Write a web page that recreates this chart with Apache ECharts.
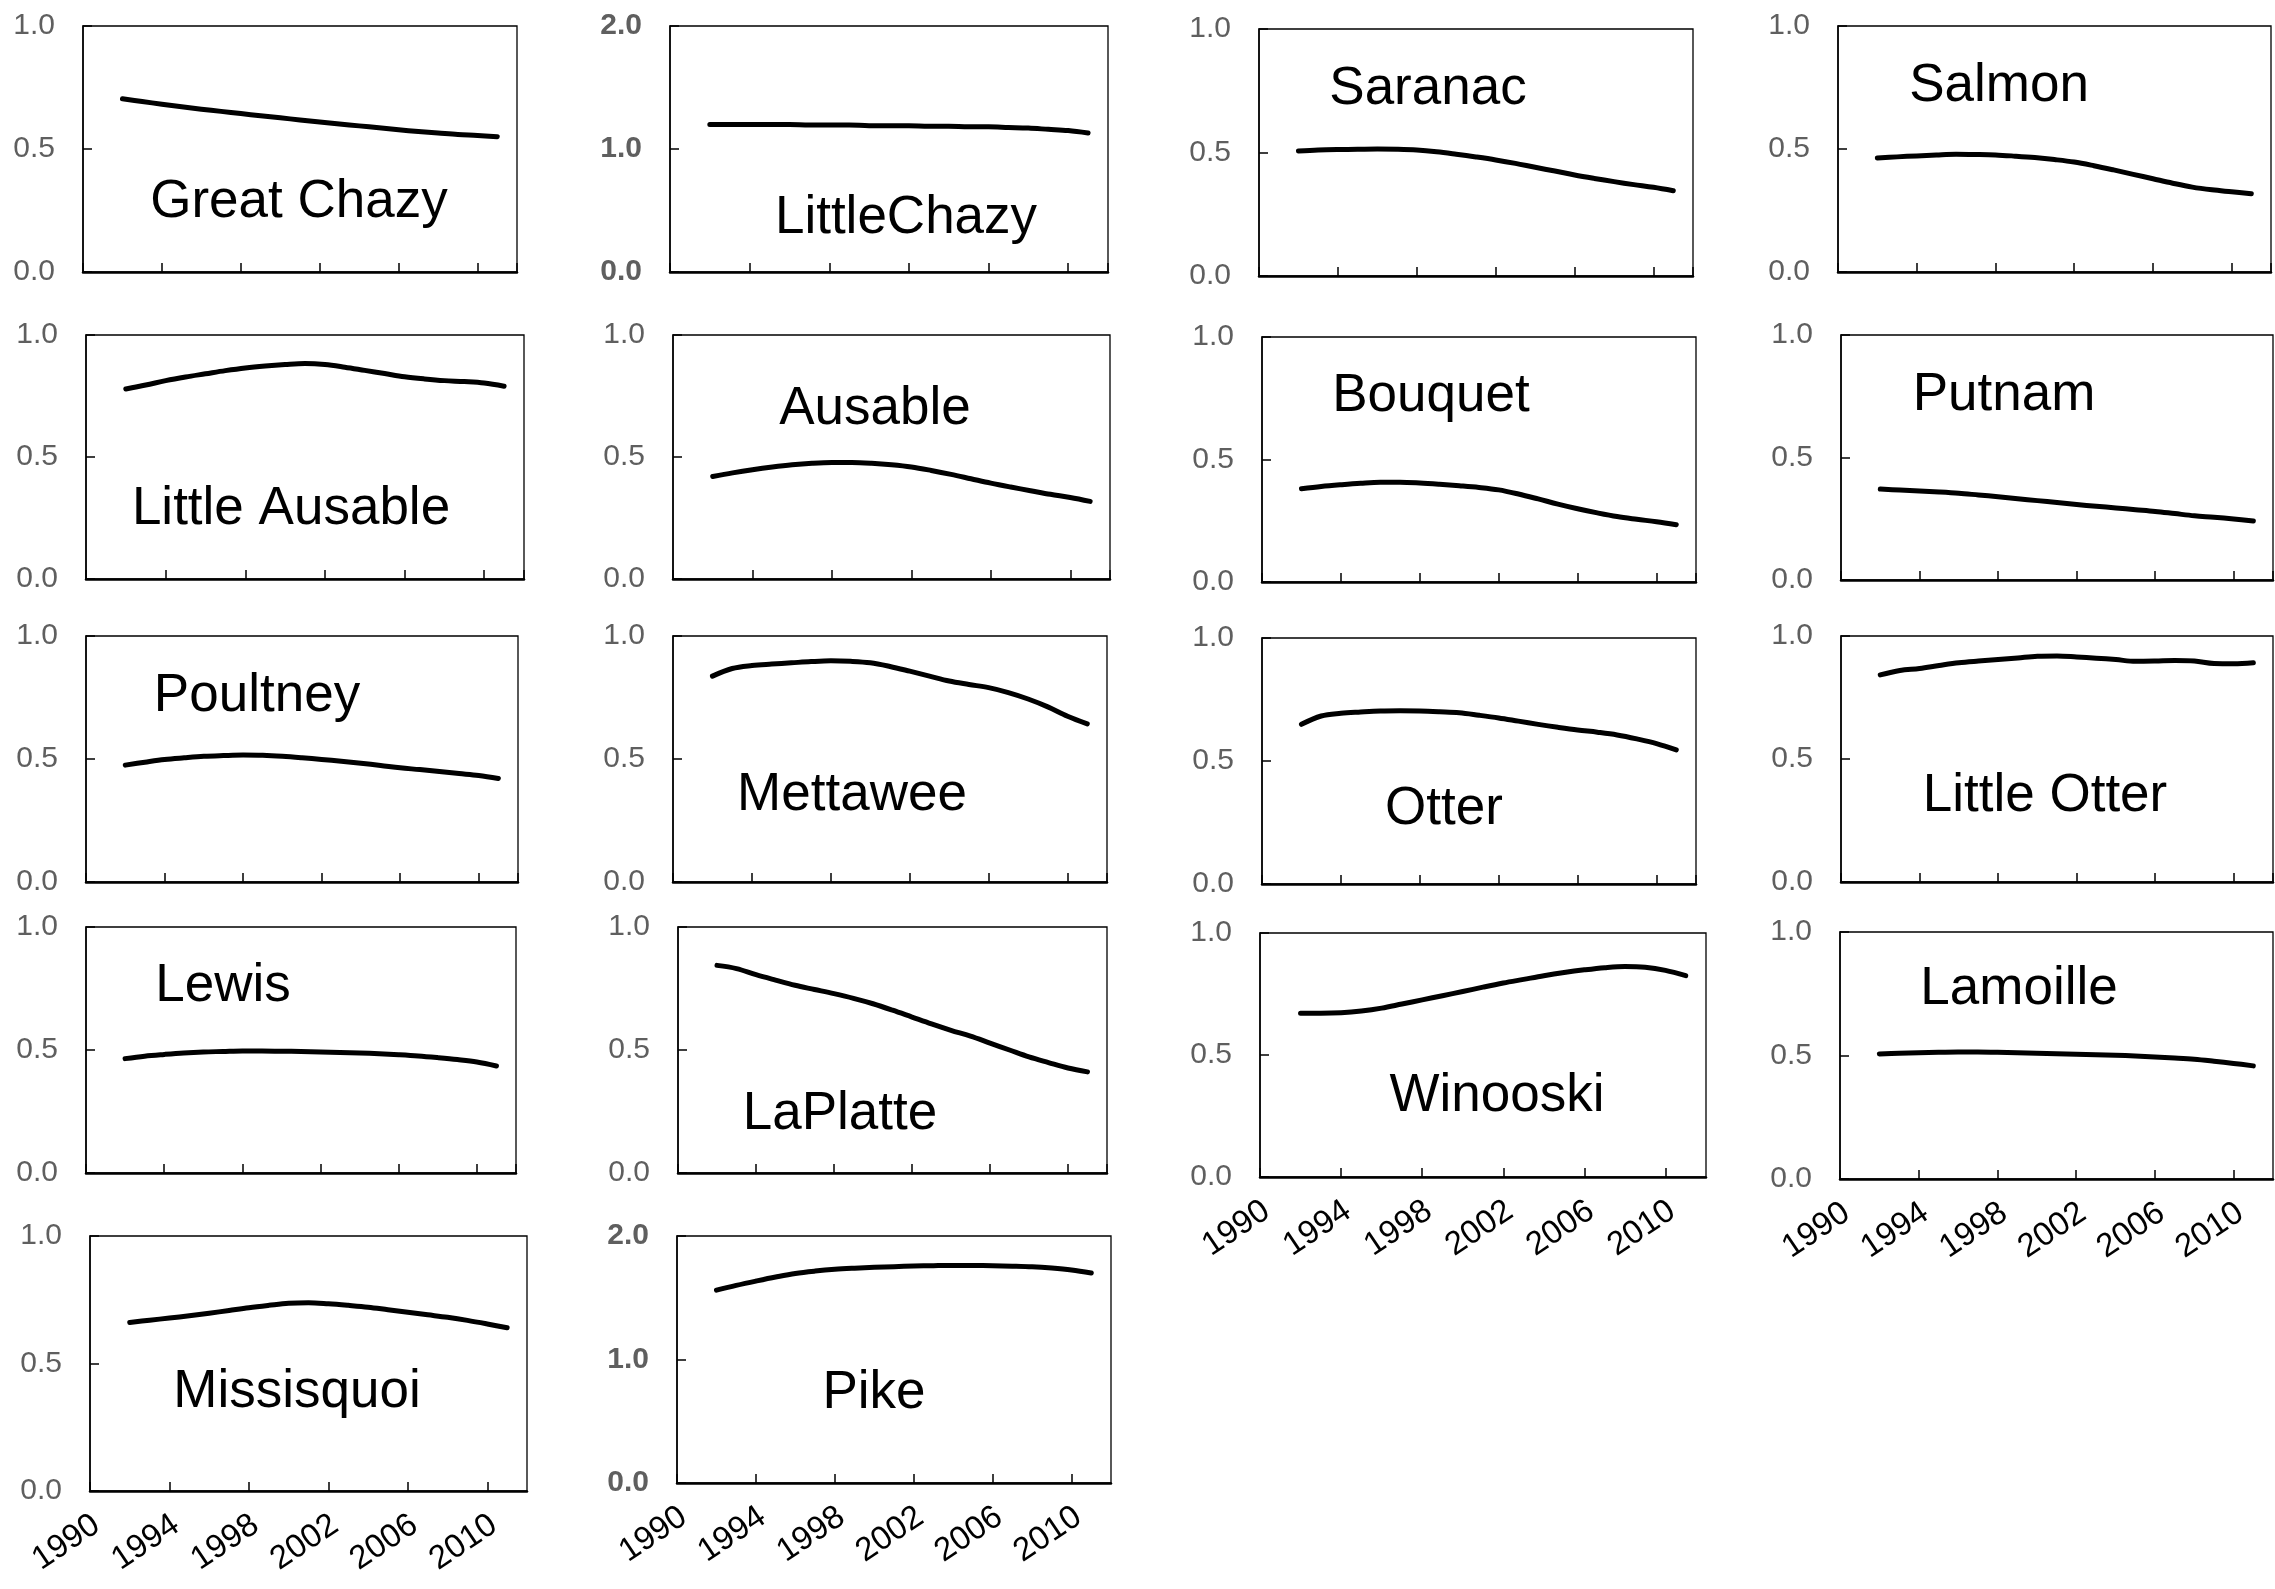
<!DOCTYPE html>
<html>
<head>
<meta charset="utf-8">
<title>Lake Champlain tributaries, 1992–2011</title>
<script src="https://cdn.jsdelivr.net/npm/echarts@6/dist/echarts.min.js"></script>
<style>
  html, body { margin: 0; padding: 0; background: #ffffff; }
  #chart { width: 2275px; height: 1589px; }
</style>
</head>
<body>
<div id="chart"></div>
<script>
// ---- data -------------------------------------------------------------
const YEARS = [1992, 1993, 1994, 1995, 1996, 1997, 1998, 1999, 2000, 2001,
               2002, 2003, 2004, 2005, 2006, 2007, 2008, 2009, 2010, 2011];
const X_TICKS = [1990, 1994, 1998, 2002, 2006, 2010];
const X_END = 2012;

const greatChazy    = [0.704, 0.693, 0.682, 0.672, 0.662, 0.653, 0.644, 0.635, 0.627, 0.618, 0.610, 0.602, 0.594, 0.586, 0.578, 0.571, 0.565, 0.559, 0.555, 0.550];
const littleChazy   = [1.200, 1.200, 1.200, 1.200, 1.200, 1.195, 1.195, 1.195, 1.190, 1.190, 1.190, 1.185, 1.185, 1.180, 1.180, 1.175, 1.170, 1.160, 1.150, 1.130];
const saranac       = [0.506, 0.510, 0.512, 0.513, 0.514, 0.513, 0.510, 0.503, 0.493, 0.482, 0.470, 0.456, 0.440, 0.425, 0.409, 0.395, 0.382, 0.370, 0.359, 0.345];
const salmon        = [0.463, 0.468, 0.472, 0.476, 0.479, 0.478, 0.476, 0.471, 0.465, 0.457, 0.447, 0.432, 0.415, 0.397, 0.379, 0.361, 0.345, 0.334, 0.326, 0.318];
const littleAusable = [0.779, 0.795, 0.813, 0.828, 0.841, 0.854, 0.865, 0.873, 0.879, 0.883, 0.879, 0.868, 0.855, 0.842, 0.829, 0.820, 0.813, 0.809, 0.803, 0.790];
const ausable       = [0.420, 0.435, 0.448, 0.459, 0.468, 0.474, 0.477, 0.477, 0.474, 0.468, 0.459, 0.445, 0.429, 0.411, 0.393, 0.377, 0.362, 0.347, 0.334, 0.318];
const bouquet       = [0.381, 0.390, 0.397, 0.403, 0.407, 0.407, 0.404, 0.399, 0.393, 0.386, 0.376, 0.359, 0.339, 0.318, 0.299, 0.282, 0.267, 0.256, 0.246, 0.234];
const putnam        = [0.371, 0.367, 0.363, 0.359, 0.354, 0.347, 0.340, 0.332, 0.324, 0.316, 0.308, 0.301, 0.294, 0.287, 0.280, 0.271, 0.262, 0.256, 0.249, 0.241];
const poultney      = [0.475, 0.487, 0.498, 0.505, 0.511, 0.514, 0.516, 0.515, 0.511, 0.505, 0.498, 0.491, 0.483, 0.474, 0.464, 0.457, 0.449, 0.441, 0.433, 0.421];
const mettawee      = [0.837, 0.868, 0.880, 0.886, 0.891, 0.896, 0.899, 0.897, 0.891, 0.876, 0.857, 0.837, 0.817, 0.803, 0.790, 0.770, 0.744, 0.712, 0.674, 0.643];
const otter         = [0.649, 0.683, 0.694, 0.699, 0.703, 0.704, 0.703, 0.700, 0.696, 0.686, 0.675, 0.662, 0.649, 0.637, 0.626, 0.617, 0.606, 0.590, 0.571, 0.545];
const littleOtter   = [0.842, 0.860, 0.868, 0.880, 0.891, 0.898, 0.904, 0.911, 0.918, 0.919, 0.915, 0.910, 0.904, 0.897, 0.898, 0.900, 0.898, 0.888, 0.887, 0.891];
const lewis         = [0.465, 0.475, 0.482, 0.488, 0.492, 0.494, 0.496, 0.496, 0.495, 0.494, 0.492, 0.490, 0.488, 0.485, 0.481, 0.476, 0.469, 0.461, 0.451, 0.435];
const laPlatte      = [0.844, 0.831, 0.806, 0.784, 0.763, 0.746, 0.729, 0.710, 0.688, 0.662, 0.634, 0.606, 0.580, 0.556, 0.528, 0.500, 0.472, 0.449, 0.427, 0.411];
const winooski      = [0.671, 0.671, 0.673, 0.680, 0.692, 0.709, 0.726, 0.743, 0.760, 0.778, 0.795, 0.810, 0.825, 0.838, 0.849, 0.858, 0.863, 0.860, 0.847, 0.825];
const lamoille      = [0.506, 0.509, 0.511, 0.513, 0.514, 0.514, 0.513, 0.511, 0.509, 0.507, 0.505, 0.503, 0.501, 0.498, 0.494, 0.490, 0.485, 0.477, 0.468, 0.458];
const missisquoi    = [0.661, 0.670, 0.678, 0.687, 0.697, 0.708, 0.719, 0.728, 0.736, 0.738, 0.734, 0.728, 0.721, 0.711, 0.701, 0.691, 0.681, 0.669, 0.655, 0.640];
const pike          = [1.562, 1.600, 1.635, 1.668, 1.697, 1.716, 1.730, 1.739, 1.746, 1.752, 1.757, 1.760, 1.762, 1.761, 1.759, 1.756, 1.751, 1.740, 1.724, 1.700];

// ---- panel layout: plot box [left, top, right, bottom] and name anchor [cx, cy]
const PANELS = [
  { name: 'Great Chazy',    values: greatChazy,    yMax: 1, box: [83, 26, 517, 272],      at: [299, 202] },
  { name: 'LittleChazy',    values: littleChazy,   yMax: 2, box: [670, 26, 1108, 272],    at: [906, 218], bold: true },
  { name: 'Saranac',        values: saranac,       yMax: 1, box: [1259, 29, 1693, 276],   at: [1428, 89] },
  { name: 'Salmon',         values: salmon,        yMax: 1, box: [1838, 26, 2271, 272],   at: [1999, 86] },
  { name: 'Little Ausable', values: littleAusable, yMax: 1, box: [86, 335, 524, 579],     at: [291, 509] },
  { name: 'Ausable',        values: ausable,       yMax: 1, box: [673, 335, 1110, 579],   at: [875, 409] },
  { name: 'Bouquet',        values: bouquet,       yMax: 1, box: [1262, 337, 1696, 582],  at: [1431, 396] },
  { name: 'Putnam',         values: putnam,        yMax: 1, box: [1841, 335, 2273, 580],  at: [2004, 395] },
  { name: 'Poultney',       values: poultney,      yMax: 1, box: [86, 636, 518, 882],     at: [257, 696] },
  { name: 'Mettawee',       values: mettawee,      yMax: 1, box: [673, 636, 1107, 882],   at: [852, 795] },
  { name: 'Otter',          values: otter,         yMax: 1, box: [1262, 638, 1696, 884],  at: [1444, 809] },
  { name: 'Little Otter',   values: littleOtter,   yMax: 1, box: [1841, 636, 2273, 882],  at: [2045, 796] },
  { name: 'Lewis',          values: lewis,         yMax: 1, box: [86, 927, 516, 1173],    at: [223, 986] },
  { name: 'LaPlatte',       values: laPlatte,      yMax: 1, box: [678, 927, 1107, 1173],  at: [840, 1114] },
  { name: 'Winooski',       values: winooski,      yMax: 1, box: [1260, 933, 1706, 1177], at: [1497, 1096], years: true },
  { name: 'Lamoille',       values: lamoille,      yMax: 1, box: [1840, 932, 2273, 1179], at: [2019, 989],  years: true },
  { name: 'Missisquoi',     values: missisquoi,    yMax: 1, box: [90, 1236, 527, 1491],   at: [297, 1392], years: true },
  { name: 'Pike',           values: pike,          yMax: 2, box: [677, 1236, 1111, 1483], at: [874, 1393], years: true, bold: true }
];

// ---- build --------------------------------------------------------------
const FONT = '"Liberation Sans", Arial, Helvetica, sans-serif';
const grids = [], xAxes = [], yAxes = [], series = [], texts = [];

PANELS.forEach((p, i) => {
  const [l, t, r, b] = p.box;
  grids.push({
    left: l, top: t, width: r - l, height: b - t,
    show: true, borderColor: '#000', borderWidth: 1.3,
    containLabel: false, outerBoundsMode: 'none'
  });
  xAxes.push({
    gridIndex: i, type: 'value',
    min: X_TICKS[0], max: X_END, interval: X_TICKS[1] - X_TICKS[0],
    splitLine: { show: false },
    axisLine: { show: true, onZero: false, lineStyle: { color: '#000', width: 2.5 } },
    axisTick: { show: true, inside: true, length: 9, lineStyle: { color: '#000', width: 1.5 } },
    axisLabel: {
      show: !!p.years, rotate: 34, fontSize: 33, fontFamily: FONT, color: '#000',
      margin: 21, verticalAlign: 'top', lineHeight: 24,
      showMaxLabel: false, formatter: v => String(v)
    }
  });
  yAxes.push({
    gridIndex: i, type: 'value', min: 0, max: p.yMax, interval: p.yMax / 2,
    splitLine: { show: false },
    axisLine: { show: true, onZero: false, lineStyle: { color: '#000', width: 1.5 } },
    axisTick: { show: true, inside: true, length: 9, lineStyle: { color: '#000', width: 1.5 } },
    axisLabel: {
      fontSize: 30, fontFamily: FONT, color: '#5f5f5f', margin: 28,
      fontWeight: p.bold ? 'bold' : 'normal',
      formatter: v => v.toFixed(1)
    }
  });
  series.push({
    type: 'line', xAxisIndex: i, yAxisIndex: i, name: p.name,
    data: YEARS.map((yr, k) => [yr, p.values[k]]),
    smooth: 0.35, symbol: 'none', silent: true,
    lineStyle: { color: '#000', width: 5, cap: 'round', join: 'round' }
  });
  texts.push({
    type: 'text', x: p.at[0], y: p.at[1], silent: true,
    style: {
      text: p.name, fill: '#000', fontSize: 53, fontFamily: FONT,
      align: 'center', verticalAlign: 'middle'
    }
  });
});

const chart = echarts.init(document.getElementById('chart'), null, { renderer: 'canvas' });
chart.setOption({
  backgroundColor: '#ffffff',
  animation: false,
  grid: grids,
  xAxis: xAxes,
  yAxis: yAxes,
  series: series,
  graphic: texts
});
</script>
</body>
</html>
